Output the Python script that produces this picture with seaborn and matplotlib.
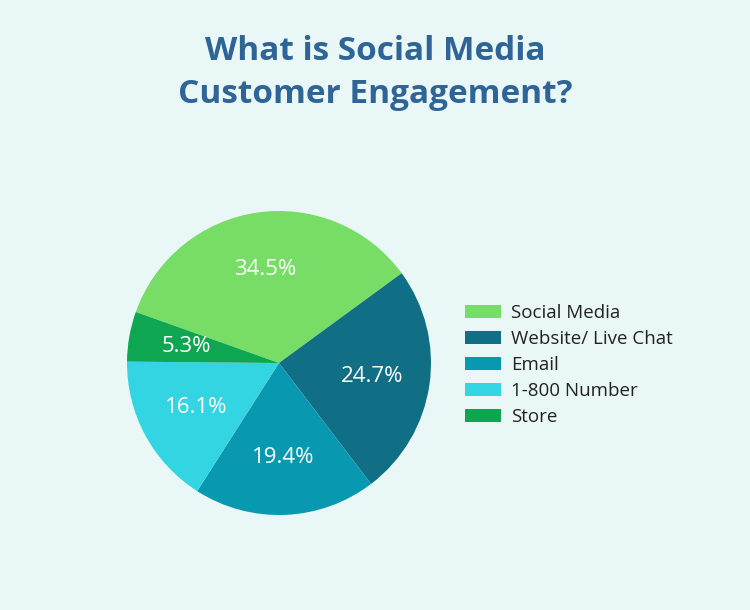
import matplotlib
matplotlib.use("Agg")
import matplotlib.pyplot as plt
import matplotlib.patches as mpatches
import seaborn as sns

categories = ["Social Media", "Website/ Live Chat", "Email", "1-800 Number", "Store"]
values = [34.5, 24.7, 19.4, 16.1, 5.3]
colors = ["#77DD66", "#106E85", "#0899B0", "#33D5E3", "#0EA650"]
title = "What is Social Media\nCustomer Engagement?"

sns.set_theme(style="white")
plt.rcParams["font.family"] = ["Open Sans", "DejaVu Sans"]
bg = "#EAF7F7"

W, H = 750, 610
fig = plt.figure(figsize=(W / 100, H / 100), dpi=100, facecolor=bg)
cx, cy, R = 279, 363, 152
ax = fig.add_axes([(cx - R) / W, (H - cy - R) / H, 2 * R / W, 2 * R / H])
ax.set_facecolor(bg)
palette = sns.color_palette(colors)

wedges, texts, autotexts = ax.pie(
    values, colors=palette, startangle=160.4, counterclock=False,
    autopct=lambda p: f"{p:.1f}%", pctdistance=0.62,
    wedgeprops=dict(linewidth=0),
    textprops=dict(color="white", fontsize=16, fontweight="normal"),
)
ax.set_xlim(-1, 1)
ax.set_ylim(-1, 1)
ax.set_aspect("equal")
ax.axis("off")

fig.text(0.5, 1 - 73 / H, title, ha="center", va="center", fontsize=24,
         fontweight="bold", color="#2E6596", linespacing=1.4)

handles = [mpatches.Patch(facecolor=c, edgecolor="none", label=l) for c, l in zip(palette, categories)]
leg = fig.legend(handles=handles, loc="upper left", bbox_to_anchor=(465 / W, 1 - 304 / H),
                 frameon=False, fontsize=13.5, handlelength=1.9, handleheight=0.7,
                 labelspacing=0.43, handletextpad=0.55, borderaxespad=0, borderpad=0)
for t in leg.get_texts():
    t.set_color("#222222")

fig.savefig("out.png", dpi=100, facecolor=bg)
